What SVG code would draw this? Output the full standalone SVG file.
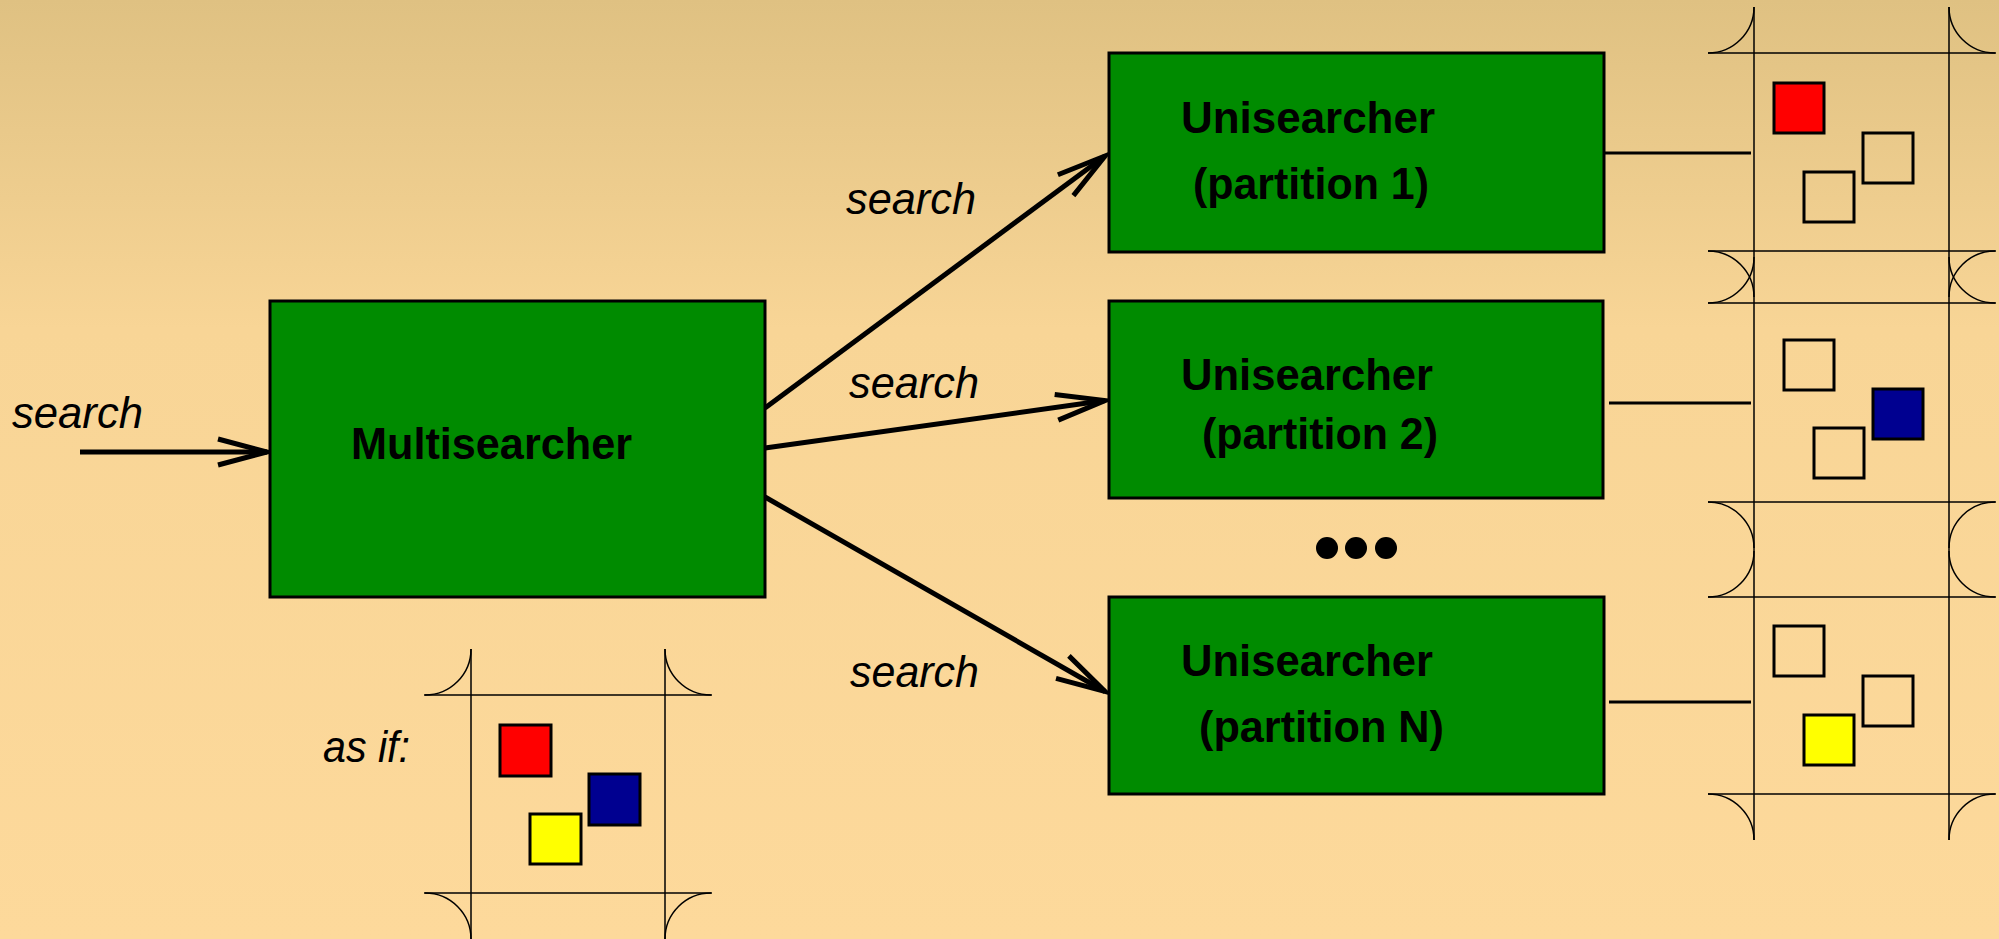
<svg xmlns="http://www.w3.org/2000/svg" width="1999" height="939" viewBox="0 0 1999 939">
  <defs>
    <linearGradient id="bg" x1="0" y1="0" x2="0" y2="1">
      <stop offset="0" stop-color="#DFC182"/>
      <stop offset="0.35" stop-color="#F8D596"/>
      <stop offset="1" stop-color="#FDD99B"/>
    </linearGradient>
    <marker id="chev" markerUnits="userSpaceOnUse" markerWidth="60" markerHeight="40" viewBox="-55 -20 60 40" refX="0" refY="0" orient="auto" overflow="visible">
      <path d="M-49,-13 L0,0 L-49,13" fill="none" stroke="#000" stroke-width="5" stroke-linejoin="miter"/>
    </marker>
    <style>
      .box { fill: #008B00; stroke: #000; stroke-width: 3; }
      .bold { font-family: "Liberation Sans", Arial, sans-serif; font-weight: bold; font-size: 44px; fill: #000; }
      .ital { font-family: "Liberation Sans", Arial, sans-serif; font-style: italic; font-size: 44px; fill: #000; }
      .edge { fill: none; stroke: #000; stroke-width: 5; }
      .link { fill: none; stroke: #000; stroke-width: 3; }
      .grid { fill: none; stroke: #000; stroke-width: 1.5; }
      .sq { stroke: #000; stroke-width: 3; }
    </style>
  </defs>

  <rect x="0" y="0" width="1999" height="939" fill="url(#bg)"/>

  <!-- connectors -->
  <g id="connectors">
    <line class="edge" x1="80" y1="452" x2="267" y2="452" marker-end="url(#chev)"/>
    <line class="edge" x1="765" y1="408" x2="1105" y2="156" marker-end="url(#chev)"/>
    <line class="edge" x1="765" y1="448" x2="1105" y2="400.5" marker-end="url(#chev)"/>
    <line class="edge" x1="765" y1="497" x2="1105" y2="691.5" marker-end="url(#chev)"/>
    <line class="link" x1="1605" y1="153" x2="1751" y2="153"/>
    <line class="link" x1="1609" y1="403" x2="1751" y2="403"/>
    <line class="link" x1="1609" y1="702" x2="1751" y2="702"/>
  </g>

  <!-- edge labels -->
  <g id="labels">
    <text class="ital" x="12" y="428" textLength="131" lengthAdjust="spacingAndGlyphs">search</text>
    <text class="ital" x="846" y="214" textLength="130" lengthAdjust="spacingAndGlyphs">search</text>
    <text class="ital" x="849" y="398" textLength="130" lengthAdjust="spacingAndGlyphs">search</text>
    <text class="ital" x="850" y="687" textLength="129" lengthAdjust="spacingAndGlyphs">search</text>
    <text class="ital" x="323" y="762" textLength="87" lengthAdjust="spacingAndGlyphs">as if:</text>
  </g>

  <g id="multisearcher">
    <rect class="box" x="270" y="301" width="495" height="296"/>
    <text class="bold" x="351" y="459" textLength="281" lengthAdjust="spacingAndGlyphs">Multisearcher</text>
  </g>

  <g id="unisearcher-1">
    <rect class="box" x="1109" y="53" width="495" height="199"/>
    <text class="bold" x="1181" y="133" textLength="254" lengthAdjust="spacingAndGlyphs">Unisearcher</text>
    <text class="bold" x="1193" y="199" textLength="236" lengthAdjust="spacingAndGlyphs">(partition 1)</text>
  </g>

  <g id="unisearcher-2">
    <rect class="box" x="1109" y="301" width="494" height="197"/>
    <text class="bold" x="1181" y="390" textLength="252" lengthAdjust="spacingAndGlyphs">Unisearcher</text>
    <text class="bold" x="1202" y="449" textLength="236" lengthAdjust="spacingAndGlyphs">(partition 2)</text>
  </g>

  <g id="ellipsis">
    <circle cx="1327" cy="548" r="11" fill="#000"/>
    <circle cx="1356" cy="548" r="11" fill="#000"/>
    <circle cx="1386" cy="548" r="11" fill="#000"/>
  </g>

  <g id="unisearcher-n">
    <rect class="box" x="1109" y="597" width="495" height="197"/>
    <text class="bold" x="1181" y="676" textLength="252" lengthAdjust="spacingAndGlyphs">Unisearcher</text>
    <text class="bold" x="1199" y="742" textLength="245" lengthAdjust="spacingAndGlyphs">(partition N)</text>
  </g>

  <!-- partition tiles on the right -->
  <g id="partition-tiles">
    <g class="grid">
      <line x1="1754" y1="7" x2="1754" y2="840"/>
      <line x1="1949" y1="7" x2="1949" y2="840"/>
      <line x1="1708" y1="53" x2="1996" y2="53"/>
      <line x1="1708" y1="251" x2="1996" y2="251"/>
      <line x1="1708" y1="303" x2="1996" y2="303"/>
      <line x1="1708" y1="502" x2="1996" y2="502"/>
      <line x1="1708" y1="597" x2="1996" y2="597"/>
      <line x1="1708" y1="794" x2="1996" y2="794"/>
      <!-- corner arcs, radius 46 -->
      <path d="M1708,53 A46,46 0 0 0 1754,7 M1949,7 A46,46 0 0 0 1995,53 M1708,251 A46,46 0 0 1 1754,297 M1949,297 A46,46 0 0 1 1995,251"/>
      <path d="M1708,303 A46,46 0 0 0 1754,257 M1949,257 A46,46 0 0 0 1995,303 M1708,502 A46,46 0 0 1 1754,548 M1949,548 A46,46 0 0 1 1995,502"/>
      <path d="M1708,597 A46,46 0 0 0 1754,551 M1949,551 A46,46 0 0 0 1995,597 M1708,794 A46,46 0 0 1 1754,840 M1949,840 A46,46 0 0 1 1995,794"/>
    </g>
    <rect class="sq" x="1774" y="83" width="50" height="50" fill="#FF0000"/>
    <rect class="sq" x="1863" y="133" width="50" height="50" fill="none"/>
    <rect class="sq" x="1804" y="172" width="50" height="50" fill="none"/>

    <rect class="sq" x="1784" y="340" width="50" height="50" fill="none"/>
    <rect class="sq" x="1873" y="389" width="50" height="50" fill="#000090"/>
    <rect class="sq" x="1814" y="428" width="50" height="50" fill="none"/>

    <rect class="sq" x="1774" y="626" width="50" height="50" fill="none"/>
    <rect class="sq" x="1863" y="676" width="50" height="50" fill="none"/>
    <rect class="sq" x="1804" y="715" width="50" height="50" fill="#FFFF00"/>
  </g>

  <!-- combined tile -->
  <g id="combined-tile">
    <g class="grid">
      <line x1="471" y1="649" x2="471" y2="939"/>
      <line x1="665" y1="649" x2="665" y2="939"/>
      <line x1="424" y1="695" x2="712" y2="695"/>
      <line x1="424" y1="893" x2="712" y2="893"/>
      <path d="M425,695 A46,46 0 0 0 471,649 M665,649 A46,46 0 0 0 711,695 M425,893 A46,46 0 0 1 471,939 M665,939 A46,46 0 0 1 711,893"/>
    </g>
    <rect class="sq" x="500" y="725" width="51" height="51" fill="#FF0000"/>
    <rect class="sq" x="589" y="774" width="51" height="51" fill="#000090"/>
    <rect class="sq" x="530" y="814" width="51" height="50" fill="#FFFF00"/>
  </g>
</svg>
